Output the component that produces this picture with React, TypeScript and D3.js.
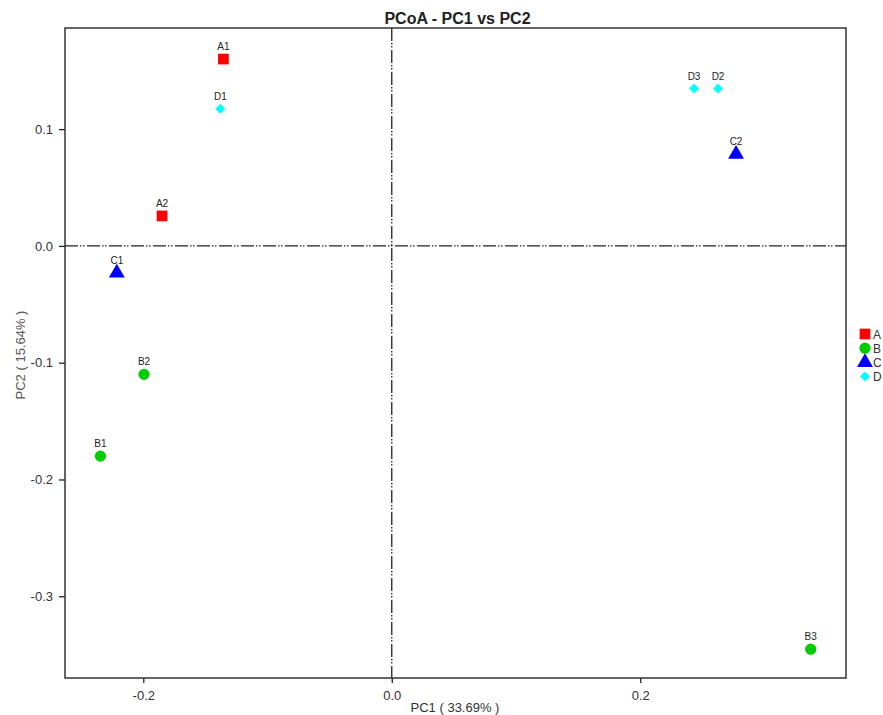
import React, { useRef, useEffect } from "react";
import * as d3 from "d3";

// sample coordinates
const samples = ["A1", "A2", "B1", "B2", "B3", "C1", "C2", "D1", "D2", "D3"];
const groups = ["A", "A", "B", "B", "B", "C", "C", "D", "D", "D"];
const pc1 = [-0.1355, -0.1849, -0.2345, -0.1994, 0.3372, -0.2213, 0.2771, -0.138, 0.2626, 0.2433];
const pc2 = [0.160, 0.0257, -0.180, -0.110, -0.3453, -0.0231, 0.0785, 0.1175, 0.1347, 0.1347];

const groupNames = ["A", "B", "C", "D"];
const groupColors = ["#ff0000", "#00cc00", "#0000ff", "#00ffff"];
const groupShapes = [d3.symbolSquare, d3.symbolCircle, d3.symbolTriangle, d3.symbolSquare];
const groupSizes = [115, 100, 110, 50];
const groupRotate = [0, 0, 0, 45];

const xTicks = [-0.2, 0.0, 0.2];
const yTicks = [-0.3, -0.2, -0.1, 0.0, 0.1];

const width = 883;
const height = 715;

function PcoaPlot() {
  const svgRef = useRef<SVGSVGElement>(null);

  useEffect(() => {
    const svg = d3.select(svgRef.current);
    svg.selectAll("*").remove();

    const margin = { top: 28, right: 37, bottom: 37, left: 65 };
    const innerWidth = width - margin.left - margin.right;
    const innerHeight = height - margin.top - margin.bottom;
    const font = "'Liberation Sans', Arial, sans-serif";

    const x = d3.scaleLinear().domain([-0.263, 0.3656]).range([0, innerWidth]);
    const y = d3.scaleLinear().domain([-0.37, 0.1866]).range([innerHeight, 0]);

    const color = d3.scaleOrdinal<string, string>().domain(groupNames).range(groupColors);
    const symbol = (g: string) => {
      const i = groupNames.indexOf(g);
      return d3.symbol().type(groupShapes[i]).size(groupSizes[i])();
    };
    const rot = (g: string) => groupRotate[groupNames.indexOf(g)];
    const fmt = (d: number) => d.toFixed(1); // plain hyphen minus like the original

    const g = svg.append("g").attr("transform", `translate(${margin.left},${margin.top})`);

    // zero lines, dash-dot-dot
    const dash = "13,2,1.5,1.5,1.5,2.5";
    g.append("line")
      .attr("x1", 0).attr("x2", innerWidth)
      .attr("y1", y(0)).attr("y2", y(0))
      .attr("stroke", "#222").attr("stroke-width", 1.3)
      .attr("stroke-dasharray", dash);
    g.append("line")
      .attr("x1", x(0)).attr("x2", x(0))
      .attr("y1", 0).attr("y2", innerHeight)
      .attr("stroke", "#222").attr("stroke-width", 1.3)
      .attr("stroke-dasharray", dash);

    // axes
    const xAxis = g.append("g")
      .attr("transform", `translate(0,${innerHeight})`)
      .call(d3.axisBottom(x).tickValues(xTicks).tickFormat(fmt as any).tickSize(5).tickSizeOuter(0));
    const yAxis = g.append("g")
      .call(d3.axisLeft(y).tickValues(yTicks).tickFormat(fmt as any).tickSize(6).tickSizeOuter(0));

    [xAxis, yAxis].forEach((ax) => {
      ax.select(".domain").remove();
      ax.selectAll("line").attr("stroke", "#222").attr("stroke-width", 1.3);
      ax.selectAll("text")
        .style("font-family", font)
        .style("font-size", "13px")
        .attr("fill", "#333");
    });
    xAxis.selectAll("text").attr("dy", "1.1em");
    yAxis.selectAll("text").attr("x", -12);

    // frame
    g.append("rect")
      .attr("width", innerWidth)
      .attr("height", innerHeight)
      .attr("fill", "none")
      .attr("stroke", "#333")
      .attr("stroke-width", 1.5);

    // points
    const data = samples.map((s, i) => ({ name: s, group: groups[i], x: pc1[i], y: pc2[i] }));
    g.selectAll(".pt")
      .data(data)
      .enter()
      .append("path")
      .attr("class", "pt")
      .attr("transform", (d) => `translate(${x(d.x)},${y(d.y)}) rotate(${rot(d.group)})`)
      .attr("d", (d) => symbol(d.group))
      .attr("fill", (d) => color(d.group));

    g.selectAll(".lbl")
      .data(data)
      .enter()
      .append("text")
      .attr("class", "lbl")
      .attr("x", (d) => x(d.x))
      .attr("y", (d) => y(d.y) - 9)
      .attr("text-anchor", "middle")
      .style("font-family", font)
      .style("font-size", "10px")
      .attr("fill", "#222")
      .text((d) => d.name);

    // title
    svg.append("text")
      .attr("x", margin.left + innerWidth / 2 + 2)
      .attr("y", 24)
      .attr("text-anchor", "middle")
      .style("font-family", font)
      .style("font-size", "16px")
      .style("font-weight", "bold")
      .attr("fill", "#222")
      .text("PCoA - PC1 vs PC2");

    svg.append("text")
      .attr("x", 455)
      .attr("y", 712)
      .attr("text-anchor", "middle")
      .style("font-family", font)
      .style("font-size", "13px")
      .attr("fill", "#333")
      .text("PC1 ( 33.69% )");

    svg.append("text")
      .attr("transform", `translate(25,355) rotate(-90)`)
      .attr("text-anchor", "middle")
      .style("font-family", font)
      .style("font-size", "13px")
      .attr("fill", "#555")
      .text("PC2 ( 15.64% )");

    // legend
    const legend = svg.append("g").attr("transform", `translate(865,334)`);
    groupNames.forEach((name, i) => {
      const item = legend.append("g").attr("transform", `translate(0,${i * 14.2})`);
      item.append("path")
        .attr("d", symbol(name))
        .attr("transform", `rotate(${groupRotate[i]})`)
        .attr("fill", groupColors[i]);
      item.append("text")
        .attr("x", 8)
        .attr("y", 4.5)
        .style("font-family", font)
        .style("font-size", "12px")
        .attr("fill", "#333")
        .text(name);
    });
  }, []);

  return (
    <svg
      ref={svgRef}
      width={width}
      height={height}
      style={{ position: "absolute", left: 0, top: 0, background: "#fff" }}
    ></svg>
  );
}

export default function App() {
  return <PcoaPlot />;
}
